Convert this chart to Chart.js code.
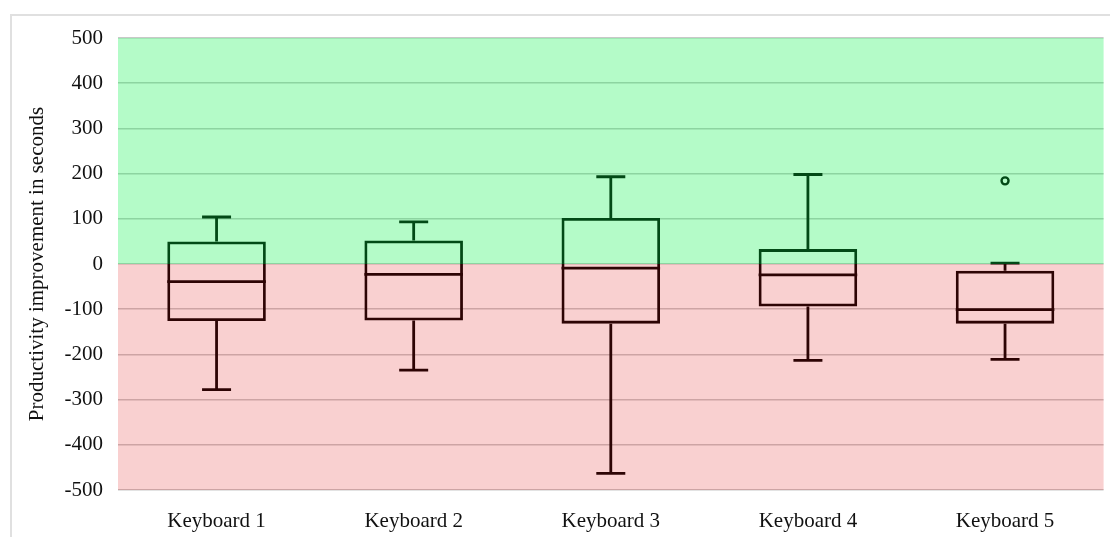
<!DOCTYPE html>
<html>
<head>
<meta charset="utf-8">
<script src="https://cdn.jsdelivr.net/npm/chart.js@4.4.1/dist/chart.umd.min.js"></script>
<style>
  html, body { margin: 0; padding: 0; background: #fff; }
  #wrap { position: relative; width: 1110px; height: 537px; overflow: hidden; }
  #frame { position: absolute; left: 10px; top: 14px; width: 1130px; height: 560px; border: 2px solid #e0e0e0; box-sizing: border-box; }
  #chart { position: absolute; left: 0; top: 0; }
</style>
</head>
<body>
<div id="wrap">
  <div id="frame"></div>
  <canvas id="chart" width="1110" height="537"></canvas>
</div>
<script>
// box plot values (seconds)
const keyboards = ["Keyboard 1", "Keyboard 2", "Keyboard 3", "Keyboard 4", "Keyboard 5"];
const whiskerLow = [-278, -235, -463, -213, -211];
const q1 = [-126, -125, -132, -94, -132];
const median = [-39, -23, -9, -24, -101];
const q3 = [50, 52, 102, 33, -15];
const whiskerHigh = [104, 93, 193, 198, 2];
const outliers = [null, null, null, null, 184];

const yMin = -500;
const yMax = 500;
const yStep = 100;
const zoneBreak = 0; // green above, red below

const fontFamily = "'Liberation Serif', 'Times New Roman', serif";
const lineColor = "#000";
const lineW = 2.8;

const ctx = document.getElementById("chart");

// medians, whiskers + caps, then the tinted zones laid over the plot
const boxExtras = {
  id: "boxExtras",
  afterDatasetsDraw(chart) {
    const { ctx, chartArea, scales } = chart;
    const x = scales.x;
    const y = scales.y;
    const boxEl = chart.getDatasetMeta(0).data;
    ctx.save();
    ctx.strokeStyle = lineColor;
    ctx.lineWidth = lineW;
    const capHalf = 14.5;
    keyboards.forEach((k, i) => {
      const cx = x.getPixelForValue(i);
      const halfBox = boxEl[i].width / 2;
      const my = y.getPixelForValue(median[i]);
      ctx.beginPath();
      ctx.moveTo(cx - halfBox, my);
      ctx.lineTo(cx + halfBox, my);
      ctx.stroke();

      const segs = [[q3[i], whiskerHigh[i]], [q1[i], whiskerLow[i]]];
      segs.forEach(([from, to]) => {
        const y0 = y.getPixelForValue(from);
        const y1 = y.getPixelForValue(to);
        ctx.beginPath();
        ctx.moveTo(cx, y0);
        ctx.lineTo(cx, y1);
        ctx.moveTo(cx - capHalf, y1);
        ctx.lineTo(cx + capHalf, y1);
        ctx.stroke();
      });
    });

    const zeroY = y.getPixelForValue(zoneBreak);
    const topY = y.getPixelForValue(yMax);
    const botY = y.getPixelForValue(yMin);
    ctx.fillStyle = "rgba(8, 241, 72, 0.3)";
    ctx.fillRect(chartArea.left, topY, chartArea.right - chartArea.left, zeroY - topY);
    ctx.fillStyle = "rgba(225, 20, 20, 0.2)";
    ctx.fillRect(chartArea.left, zeroY, chartArea.right - chartArea.left, botY - zeroY);
    ctx.restore();
  },
};

const boxChart = new Chart(ctx, {
  data: {
    labels: keyboards,
    datasets: [
      {
        type: "bar",
        label: "Q1 - Q3",
        data: q1.map((v, i) => [v, q3[i]]),
        backgroundColor: "transparent",
        borderColor: lineColor,
        borderWidth: lineW,
        borderSkipped: false,
        grouped: false,
        barPercentage: 0.5,
        categoryPercentage: 1.0,
      },
      {
        type: "line",
        label: "Outliers",
        data: outliers,
        showLine: false,
        pointRadius: 3.5,
        pointBorderWidth: 2.4,
        pointBorderColor: lineColor,
        pointBackgroundColor: "transparent",
      },
    ],
  },
  options: {
    responsive: false,
    animation: false,
    layout: { padding: { top: 38, right: -2, left: 0, bottom: 0 } },
    plugins: {
      legend: { display: false },
      tooltip: { enabled: false },
    },
    scales: {
      x: {
        grid: { display: false },
        border: { display: false },
        ticks: {
          color: "#111",
          padding: 11,
          font: { family: fontFamily, size: 21 },
        },
        afterFit: (scale) => {
          scale.height = 47;
        },
      },
      y: {
        min: yMin,
        max: yMax,
        grid: { color: "#c8c8c8", lineWidth: 1.5, drawTicks: false },
        border: { display: false },
        ticks: {
          stepSize: yStep,
          color: "#111",
          padding: 15,
          font: { family: fontFamily, size: 21 },
        },
        title: {
          display: true,
          text: "Productivity improvement in seconds",
          color: "#111",
          padding: { top: 25, bottom: 0 },
          font: { family: fontFamily, size: 21 },
        },
        afterFit: (scale) => {
          scale.width = 118;
        },
      },
    },
  },
  plugins: [boxExtras],
});
</script>
</body>
</html>
